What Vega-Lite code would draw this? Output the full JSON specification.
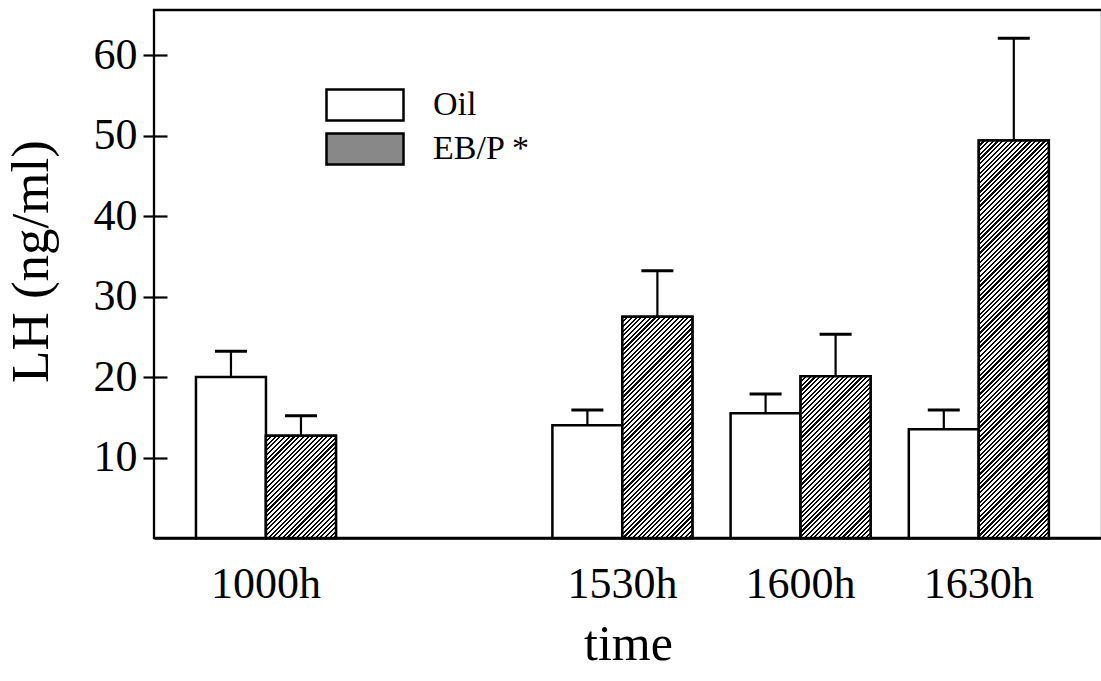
{
"$schema": "https://vega.github.io/schema/vega-lite/v6.json",
"width": 948,
"height": 528,
"autosize": {"type": "none"},
"padding": {"left": 154, "top": 10, "right": 0, "bottom": 143},
"background": "white",
"config": {"view": {"stroke": "black", "strokeWidth": 2.3}, "font": "Liberation Serif"},
"params": [{"name": "hatch", "value": [
{"offset":0,"color":"#000"},{"offset":0.0045,"color":"#000"},{"offset":0.0045,"color":"#fff"},{"offset":0.01,"color":"#fff"},
{"offset":0.01,"color":"#000"},{"offset":0.0145,"color":"#000"},{"offset":0.0145,"color":"#fff"},{"offset":0.02,"color":"#fff"},
{"offset":0.02,"color":"#000"},{"offset":0.0245,"color":"#000"},{"offset":0.0245,"color":"#fff"},{"offset":0.03,"color":"#fff"},
{"offset":0.03,"color":"#000"},{"offset":0.0345,"color":"#000"},{"offset":0.0345,"color":"#fff"},{"offset":0.04,"color":"#fff"},
{"offset":0.04,"color":"#000"},{"offset":0.0445,"color":"#000"},{"offset":0.0445,"color":"#fff"},{"offset":0.05,"color":"#fff"},
{"offset":0.05,"color":"#000"},{"offset":0.0545,"color":"#000"},{"offset":0.0545,"color":"#fff"},{"offset":0.06,"color":"#fff"},
{"offset":0.06,"color":"#000"},{"offset":0.0645,"color":"#000"},{"offset":0.0645,"color":"#fff"},{"offset":0.07,"color":"#fff"},
{"offset":0.07,"color":"#000"},{"offset":0.0745,"color":"#000"},{"offset":0.0745,"color":"#fff"},{"offset":0.08,"color":"#fff"},
{"offset":0.08,"color":"#000"},{"offset":0.0845,"color":"#000"},{"offset":0.0845,"color":"#fff"},{"offset":0.09,"color":"#fff"},
{"offset":0.09,"color":"#000"},{"offset":0.0945,"color":"#000"},{"offset":0.0945,"color":"#fff"},{"offset":0.1,"color":"#fff"},
{"offset":0.1,"color":"#000"},{"offset":0.1045,"color":"#000"},{"offset":0.1045,"color":"#fff"},{"offset":0.11,"color":"#fff"},
{"offset":0.11,"color":"#000"},{"offset":0.1145,"color":"#000"},{"offset":0.1145,"color":"#fff"},{"offset":0.12,"color":"#fff"},
{"offset":0.12,"color":"#000"},{"offset":0.1245,"color":"#000"},{"offset":0.1245,"color":"#fff"},{"offset":0.13,"color":"#fff"},
{"offset":0.13,"color":"#000"},{"offset":0.1345,"color":"#000"},{"offset":0.1345,"color":"#fff"},{"offset":0.14,"color":"#fff"},
{"offset":0.14,"color":"#000"},{"offset":0.1445,"color":"#000"},{"offset":0.1445,"color":"#fff"},{"offset":0.15,"color":"#fff"},
{"offset":0.15,"color":"#000"},{"offset":0.1545,"color":"#000"},{"offset":0.1545,"color":"#fff"},{"offset":0.16,"color":"#fff"},
{"offset":0.16,"color":"#000"},{"offset":0.1645,"color":"#000"},{"offset":0.1645,"color":"#fff"},{"offset":0.17,"color":"#fff"},
{"offset":0.17,"color":"#000"},{"offset":0.1745,"color":"#000"},{"offset":0.1745,"color":"#fff"},{"offset":0.18,"color":"#fff"},
{"offset":0.18,"color":"#000"},{"offset":0.1845,"color":"#000"},{"offset":0.1845,"color":"#fff"},{"offset":0.19,"color":"#fff"},
{"offset":0.19,"color":"#000"},{"offset":0.1945,"color":"#000"},{"offset":0.1945,"color":"#fff"},{"offset":0.2,"color":"#fff"},
{"offset":0.2,"color":"#000"},{"offset":0.2045,"color":"#000"},{"offset":0.2045,"color":"#fff"},{"offset":0.21,"color":"#fff"},
{"offset":0.21,"color":"#000"},{"offset":0.2145,"color":"#000"},{"offset":0.2145,"color":"#fff"},{"offset":0.22,"color":"#fff"},
{"offset":0.22,"color":"#000"},{"offset":0.2245,"color":"#000"},{"offset":0.2245,"color":"#fff"},{"offset":0.23,"color":"#fff"},
{"offset":0.23,"color":"#000"},{"offset":0.2345,"color":"#000"},{"offset":0.2345,"color":"#fff"},{"offset":0.24,"color":"#fff"},
{"offset":0.24,"color":"#000"},{"offset":0.2445,"color":"#000"},{"offset":0.2445,"color":"#fff"},{"offset":0.25,"color":"#fff"},
{"offset":0.25,"color":"#000"},{"offset":0.2545,"color":"#000"},{"offset":0.2545,"color":"#fff"},{"offset":0.26,"color":"#fff"},
{"offset":0.26,"color":"#000"},{"offset":0.2645,"color":"#000"},{"offset":0.2645,"color":"#fff"},{"offset":0.27,"color":"#fff"},
{"offset":0.27,"color":"#000"},{"offset":0.2745,"color":"#000"},{"offset":0.2745,"color":"#fff"},{"offset":0.28,"color":"#fff"},
{"offset":0.28,"color":"#000"},{"offset":0.2845,"color":"#000"},{"offset":0.2845,"color":"#fff"},{"offset":0.29,"color":"#fff"},
{"offset":0.29,"color":"#000"},{"offset":0.2945,"color":"#000"},{"offset":0.2945,"color":"#fff"},{"offset":0.3,"color":"#fff"},
{"offset":0.3,"color":"#000"},{"offset":0.3045,"color":"#000"},{"offset":0.3045,"color":"#fff"},{"offset":0.31,"color":"#fff"},
{"offset":0.31,"color":"#000"},{"offset":0.3145,"color":"#000"},{"offset":0.3145,"color":"#fff"},{"offset":0.32,"color":"#fff"},
{"offset":0.32,"color":"#000"},{"offset":0.3245,"color":"#000"},{"offset":0.3245,"color":"#fff"},{"offset":0.33,"color":"#fff"},
{"offset":0.33,"color":"#000"},{"offset":0.3345,"color":"#000"},{"offset":0.3345,"color":"#fff"},{"offset":0.34,"color":"#fff"},
{"offset":0.34,"color":"#000"},{"offset":0.3445,"color":"#000"},{"offset":0.3445,"color":"#fff"},{"offset":0.35,"color":"#fff"},
{"offset":0.35,"color":"#000"},{"offset":0.3545,"color":"#000"},{"offset":0.3545,"color":"#fff"},{"offset":0.36,"color":"#fff"},
{"offset":0.36,"color":"#000"},{"offset":0.3645,"color":"#000"},{"offset":0.3645,"color":"#fff"},{"offset":0.37,"color":"#fff"},
{"offset":0.37,"color":"#000"},{"offset":0.3745,"color":"#000"},{"offset":0.3745,"color":"#fff"},{"offset":0.38,"color":"#fff"},
{"offset":0.38,"color":"#000"},{"offset":0.3845,"color":"#000"},{"offset":0.3845,"color":"#fff"},{"offset":0.39,"color":"#fff"},
{"offset":0.39,"color":"#000"},{"offset":0.3945,"color":"#000"},{"offset":0.3945,"color":"#fff"},{"offset":0.4,"color":"#fff"},
{"offset":0.4,"color":"#000"},{"offset":0.4045,"color":"#000"},{"offset":0.4045,"color":"#fff"},{"offset":0.41,"color":"#fff"},
{"offset":0.41,"color":"#000"},{"offset":0.4145,"color":"#000"},{"offset":0.4145,"color":"#fff"},{"offset":0.42,"color":"#fff"},
{"offset":0.42,"color":"#000"},{"offset":0.4245,"color":"#000"},{"offset":0.4245,"color":"#fff"},{"offset":0.43,"color":"#fff"},
{"offset":0.43,"color":"#000"},{"offset":0.4345,"color":"#000"},{"offset":0.4345,"color":"#fff"},{"offset":0.44,"color":"#fff"},
{"offset":0.44,"color":"#000"},{"offset":0.4445,"color":"#000"},{"offset":0.4445,"color":"#fff"},{"offset":0.45,"color":"#fff"},
{"offset":0.45,"color":"#000"},{"offset":0.4545,"color":"#000"},{"offset":0.4545,"color":"#fff"},{"offset":0.46,"color":"#fff"},
{"offset":0.46,"color":"#000"},{"offset":0.4645,"color":"#000"},{"offset":0.4645,"color":"#fff"},{"offset":0.47,"color":"#fff"},
{"offset":0.47,"color":"#000"},{"offset":0.4745,"color":"#000"},{"offset":0.4745,"color":"#fff"},{"offset":0.48,"color":"#fff"},
{"offset":0.48,"color":"#000"},{"offset":0.4845,"color":"#000"},{"offset":0.4845,"color":"#fff"},{"offset":0.49,"color":"#fff"},
{"offset":0.49,"color":"#000"},{"offset":0.4945,"color":"#000"},{"offset":0.4945,"color":"#fff"},{"offset":0.5,"color":"#fff"},
{"offset":0.5,"color":"#000"},{"offset":0.5045,"color":"#000"},{"offset":0.5045,"color":"#fff"},{"offset":0.51,"color":"#fff"},
{"offset":0.51,"color":"#000"},{"offset":0.5145,"color":"#000"},{"offset":0.5145,"color":"#fff"},{"offset":0.52,"color":"#fff"},
{"offset":0.52,"color":"#000"},{"offset":0.5245,"color":"#000"},{"offset":0.5245,"color":"#fff"},{"offset":0.53,"color":"#fff"},
{"offset":0.53,"color":"#000"},{"offset":0.5345,"color":"#000"},{"offset":0.5345,"color":"#fff"},{"offset":0.54,"color":"#fff"},
{"offset":0.54,"color":"#000"},{"offset":0.5445,"color":"#000"},{"offset":0.5445,"color":"#fff"},{"offset":0.55,"color":"#fff"},
{"offset":0.55,"color":"#000"},{"offset":0.5545,"color":"#000"},{"offset":0.5545,"color":"#fff"},{"offset":0.56,"color":"#fff"},
{"offset":0.56,"color":"#000"},{"offset":0.5645,"color":"#000"},{"offset":0.5645,"color":"#fff"},{"offset":0.57,"color":"#fff"},
{"offset":0.57,"color":"#000"},{"offset":0.5745,"color":"#000"},{"offset":0.5745,"color":"#fff"},{"offset":0.58,"color":"#fff"},
{"offset":0.58,"color":"#000"},{"offset":0.5845,"color":"#000"},{"offset":0.5845,"color":"#fff"},{"offset":0.59,"color":"#fff"},
{"offset":0.59,"color":"#000"},{"offset":0.5945,"color":"#000"},{"offset":0.5945,"color":"#fff"},{"offset":0.6,"color":"#fff"},
{"offset":0.6,"color":"#000"},{"offset":0.6045,"color":"#000"},{"offset":0.6045,"color":"#fff"},{"offset":0.61,"color":"#fff"},
{"offset":0.61,"color":"#000"},{"offset":0.6145,"color":"#000"},{"offset":0.6145,"color":"#fff"},{"offset":0.62,"color":"#fff"},
{"offset":0.62,"color":"#000"},{"offset":0.6245,"color":"#000"},{"offset":0.6245,"color":"#fff"},{"offset":0.63,"color":"#fff"},
{"offset":0.63,"color":"#000"},{"offset":0.6345,"color":"#000"},{"offset":0.6345,"color":"#fff"},{"offset":0.64,"color":"#fff"},
{"offset":0.64,"color":"#000"},{"offset":0.6445,"color":"#000"},{"offset":0.6445,"color":"#fff"},{"offset":0.65,"color":"#fff"},
{"offset":0.65,"color":"#000"},{"offset":0.6545,"color":"#000"},{"offset":0.6545,"color":"#fff"},{"offset":0.66,"color":"#fff"},
{"offset":0.66,"color":"#000"},{"offset":0.6645,"color":"#000"},{"offset":0.6645,"color":"#fff"},{"offset":0.67,"color":"#fff"},
{"offset":0.67,"color":"#000"},{"offset":0.6745,"color":"#000"},{"offset":0.6745,"color":"#fff"},{"offset":0.68,"color":"#fff"},
{"offset":0.68,"color":"#000"},{"offset":0.6845,"color":"#000"},{"offset":0.6845,"color":"#fff"},{"offset":0.69,"color":"#fff"},
{"offset":0.69,"color":"#000"},{"offset":0.6945,"color":"#000"},{"offset":0.6945,"color":"#fff"},{"offset":0.7,"color":"#fff"},
{"offset":0.7,"color":"#000"},{"offset":0.7045,"color":"#000"},{"offset":0.7045,"color":"#fff"},{"offset":0.71,"color":"#fff"},
{"offset":0.71,"color":"#000"},{"offset":0.7145,"color":"#000"},{"offset":0.7145,"color":"#fff"},{"offset":0.72,"color":"#fff"},
{"offset":0.72,"color":"#000"},{"offset":0.7245,"color":"#000"},{"offset":0.7245,"color":"#fff"},{"offset":0.73,"color":"#fff"},
{"offset":0.73,"color":"#000"},{"offset":0.7345,"color":"#000"},{"offset":0.7345,"color":"#fff"},{"offset":0.74,"color":"#fff"},
{"offset":0.74,"color":"#000"},{"offset":0.7445,"color":"#000"},{"offset":0.7445,"color":"#fff"},{"offset":0.75,"color":"#fff"},
{"offset":0.75,"color":"#000"},{"offset":0.7545,"color":"#000"},{"offset":0.7545,"color":"#fff"},{"offset":0.76,"color":"#fff"},
{"offset":0.76,"color":"#000"},{"offset":0.7645,"color":"#000"},{"offset":0.7645,"color":"#fff"},{"offset":0.77,"color":"#fff"},
{"offset":0.77,"color":"#000"},{"offset":0.7745,"color":"#000"},{"offset":0.7745,"color":"#fff"},{"offset":0.78,"color":"#fff"},
{"offset":0.78,"color":"#000"},{"offset":0.7845,"color":"#000"},{"offset":0.7845,"color":"#fff"},{"offset":0.79,"color":"#fff"},
{"offset":0.79,"color":"#000"},{"offset":0.7945,"color":"#000"},{"offset":0.7945,"color":"#fff"},{"offset":0.8,"color":"#fff"},
{"offset":0.8,"color":"#000"},{"offset":0.8045,"color":"#000"},{"offset":0.8045,"color":"#fff"},{"offset":0.81,"color":"#fff"},
{"offset":0.81,"color":"#000"},{"offset":0.8145,"color":"#000"},{"offset":0.8145,"color":"#fff"},{"offset":0.82,"color":"#fff"},
{"offset":0.82,"color":"#000"},{"offset":0.8245,"color":"#000"},{"offset":0.8245,"color":"#fff"},{"offset":0.83,"color":"#fff"},
{"offset":0.83,"color":"#000"},{"offset":0.8345,"color":"#000"},{"offset":0.8345,"color":"#fff"},{"offset":0.84,"color":"#fff"},
{"offset":0.84,"color":"#000"},{"offset":0.8445,"color":"#000"},{"offset":0.8445,"color":"#fff"},{"offset":0.85,"color":"#fff"},
{"offset":0.85,"color":"#000"},{"offset":0.8545,"color":"#000"},{"offset":0.8545,"color":"#fff"},{"offset":0.86,"color":"#fff"},
{"offset":0.86,"color":"#000"},{"offset":0.8645,"color":"#000"},{"offset":0.8645,"color":"#fff"},{"offset":0.87,"color":"#fff"},
{"offset":0.87,"color":"#000"},{"offset":0.8745,"color":"#000"},{"offset":0.8745,"color":"#fff"},{"offset":0.88,"color":"#fff"},
{"offset":0.88,"color":"#000"},{"offset":0.8845,"color":"#000"},{"offset":0.8845,"color":"#fff"},{"offset":0.89,"color":"#fff"},
{"offset":0.89,"color":"#000"},{"offset":0.8945,"color":"#000"},{"offset":0.8945,"color":"#fff"},{"offset":0.9,"color":"#fff"},
{"offset":0.9,"color":"#000"},{"offset":0.9045,"color":"#000"},{"offset":0.9045,"color":"#fff"},{"offset":0.91,"color":"#fff"},
{"offset":0.91,"color":"#000"},{"offset":0.9145,"color":"#000"},{"offset":0.9145,"color":"#fff"},{"offset":0.92,"color":"#fff"},
{"offset":0.92,"color":"#000"},{"offset":0.9245,"color":"#000"},{"offset":0.9245,"color":"#fff"},{"offset":0.93,"color":"#fff"},
{"offset":0.93,"color":"#000"},{"offset":0.9345,"color":"#000"},{"offset":0.9345,"color":"#fff"},{"offset":0.94,"color":"#fff"},
{"offset":0.94,"color":"#000"},{"offset":0.9445,"color":"#000"},{"offset":0.9445,"color":"#fff"},{"offset":0.95,"color":"#fff"},
{"offset":0.95,"color":"#000"},{"offset":0.9545,"color":"#000"},{"offset":0.9545,"color":"#fff"},{"offset":0.96,"color":"#fff"},
{"offset":0.96,"color":"#000"},{"offset":0.9645,"color":"#000"},{"offset":0.9645,"color":"#fff"},{"offset":0.97,"color":"#fff"},
{"offset":0.97,"color":"#000"},{"offset":0.9745,"color":"#000"},{"offset":0.9745,"color":"#fff"},{"offset":0.98,"color":"#fff"},
{"offset":0.98,"color":"#000"},{"offset":0.9845,"color":"#000"},{"offset":0.9845,"color":"#fff"},{"offset":0.99,"color":"#fff"},
{"offset":0.99,"color":"#000"},{"offset":0.9945,"color":"#000"},{"offset":0.9945,"color":"#fff"},{"offset":1,"color":"#fff"}
]}],
"data": {"values": [
{"time": "1000h", "group": "Oil", "LH": 20.0, "upper": 23.2},
{"time": "1000h", "group": "EB/P", "LH": 12.7, "upper": 15.2},
{"time": "1530h", "group": "Oil", "LH": 14.0, "upper": 15.9},
{"time": "1530h", "group": "EB/P", "LH": 27.5, "upper": 33.2},
{"time": "1600h", "group": "Oil", "LH": 15.5, "upper": 17.9},
{"time": "1600h", "group": "EB/P", "LH": 20.1, "upper": 25.3},
{"time": "1630h", "group": "Oil", "LH": 13.5, "upper": 15.9},
{"time": "1630h", "group": "EB/P", "LH": 49.4, "upper": 62.1}
]},
"encoding": {
  "x": {"field": "time", "type": "nominal", "title": "time",
    "scale": {"domain": ["1000h", "gap", "1530h", "1600h", "1630h"], "paddingInner": 0.2144, "paddingOuter": 0.267, "align": 0.441},
    "axis": {"labelExpr": "datum.value == 'gap' ? '' : datum.value", "ticks": false, "tickSize": 0, "domainColor": "black", "domainWidth": 2.5, "labelAngle": 0, "labelFont": "Liberation Serif", "labelFontSize": 44, "labelPadding": 24, "labelColor": "black", "labelOverlap": false, "titleFont": "Liberation Serif", "titleFontSize": 50, "titleFontWeight": "normal", "titleColor": "black", "titlePadding": 13, "grid": false}},
  "xOffset": {"field": "group", "type": "nominal", "scale": {"domain": ["Oil", "EB/P"], "paddingInner": 0, "paddingOuter": 0}},
  "y": {"field": "LH", "type": "quantitative", "title": "LH (ng/ml)",
    "scale": {"domain": [0, 65.6], "nice": false, "zero": true},
    "axis": {"values": [10, 20, 30, 40, 50, 60], "grid": false, "domain": false, "offset": -13, "tickSize": 24, "tickWidth": 2.2, "tickColor": "black", "labelFont": "Liberation Serif", "labelFontSize": 44, "labelPadding": 6, "labelColor": "black", "titleFont": "Liberation Serif", "titleFontSize": 53, "titleFontWeight": "normal", "titleColor": "black", "titlePadding": 35, "titleY": 251}}
},
"layer": [
  {"mark": {"type": "bar", "stroke": "black", "strokeWidth": 2.5},
   "encoding": {"fill": {"field": "group", "type": "nominal",
     "scale": {"domain": ["Oil", "EB/P"], "range": ["#ffffff", "#888888"]},
     "legend": {"orient": "none", "legendX": 194, "legendY": 78, "title": null, "padding": 0,
       "symbolType": "M-2.484,-1H2.484V1H-2.484Z", "symbolSize": 961, "symbolStrokeColor": "black", "symbolStrokeWidth": 2.5,
       "labelFont": "Liberation Serif", "labelFontSize": 34, "labelColor": "black", "labelOffset": 51, "rowPadding": 2,
       "labelExpr": "datum.value == 'EB/P' ? 'EB/P *' : datum.value",
       "encode": {"symbols": {"update": {"fill": {"signal": "datum.value == 'EB/P' ? {gradient: 'linear', x1: 0, y1: 0, x2: 5.2525, y2: 2.1147, stops: hatch} : 'white'"}, "stroke": {"value": "black"}, "strokeWidth": {"value": 2.5}, "opacity": {"value": 1}, "fillOpacity": {"value": 1}, "strokeOpacity": {"value": 1}}}}}}}},
  {"transform": [{"filter": "datum.group == 'EB/P'"}],
   "mark": {"type": "bar", "stroke": "black", "strokeWidth": 2.5,
     "fill": {"expr": "{gradient: 'linear', x1: 0, y1: 0, x2: 470 * (bandwidth('x') / 2) / (pow(bandwidth('x') / 2, 2) + pow(scale('y', 0) - scale('y', datum.LH), 2)), y2: 470 * (scale('y', 0) - scale('y', datum.LH)) / (pow(bandwidth('x') / 2, 2) + pow(scale('y', 0) - scale('y', datum.LH), 2)), stops: hatch}"}},
   "encoding": {}},
  {"mark": {"type": "rule", "color": "black", "strokeWidth": 2.2},
   "encoding": {"y2": {"field": "upper"}}},
  {"mark": {"type": "tick", "color": "black", "thickness": 3, "size": 32, "opacity": 1, "orient": "horizontal"},
   "encoding": {"y": {"field": "upper", "type": "quantitative", "title": "LH (ng/ml)"}}}
]
}
